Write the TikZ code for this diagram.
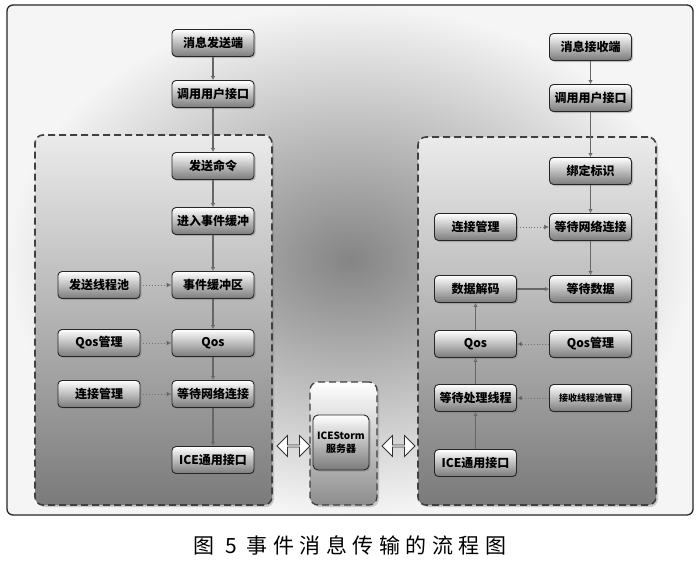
\documentclass[tikz,border=0pt]{standalone}
\usepackage{fontspec}
\newfontfamily\cjk{Noto Sans CJK SC}
\newfontfamily\capfont{Noto Sans CJK SC}[LetterSpace=26]
\usetikzlibrary{shadows,shapes.arrows,arrows.meta}
\begin{document}
\begin{tikzpicture}[x=1pt,y=-1pt,
  box/.style={draw=black!85, line width=0.9pt, rounded corners=4pt,
    top color=white, bottom color=black!52,
    minimum width=82pt, minimum height=27pt, inner sep=1pt,
    font=\cjk\bfseries\fontsize{12}{14}\selectfont,
    drop shadow={shadow xshift=1.5pt, shadow yshift=-1.5pt, opacity=0.45}},
  group/.style={draw=black!75, line width=1.6pt, dash pattern=on 7pt off 4pt,
    rounded corners=8pt, top color=black!8, bottom color=black!52,
    drop shadow={shadow xshift=2pt, shadow yshift=-2pt, opacity=0.35}},
  flow/.style={draw=black!60, line width=1.4pt,
    -{Latex[length=4pt,width=4.5pt,open,fill=white]}},
  aux/.style={draw=black!55, dotted, line width=0.9pt,
    -{Latex[length=5pt,width=5pt,fill=black!80]}},
  dbl/.style={double arrow, draw=black!80, fill=white, line width=0.8pt,
    minimum width=21pt, minimum height=33pt, double arrow head extend=4pt,
    inner sep=0pt}
]
\useasboundingbox (0,0) rectangle (700,563);
\fill[white] (0,0) rectangle (700,563);
% outer frame
\draw[line width=1.3pt, draw=black!85, rounded corners=6pt,
  inner color=black!48, outer color=black!4] (7,5) rectangle (693,515);

% groups
\node[group, minimum width=237pt, minimum height=370pt] (gl) at (153.5,320) {};
\node[group, minimum width=238pt, minimum height=368pt] (gr) at (537,321) {};
\node[group, minimum width=67pt, minimum height=123pt, line width=1.3pt,
  top color=white, bottom color=black!45] (gm) at (343.5,443.5) {};
\node[box, minimum width=56pt, minimum height=55pt, align=center,
  font=\cjk\bfseries\fontsize{10}{13}\selectfont, rounded corners=5pt] (ice) at (341,442.5) {ICEStorm\\服务器};

% left column
\node[box] (ls1) at (213,43) {消息发送端};
\node[box] (ls2) at (213,94) {调用用户接口};
\node[box] (ls3) at (213,166) {发送命令};
\node[box] (ls4) at (213,221) {进入事件缓冲};
\node[box] (ls5) at (213,285) {事件缓冲区};
\node[box] (ls6) at (213,343) {Qos};
\node[box] (ls7) at (213,394) {等待网络连接};
\node[box] (ls8) at (213,460) {ICE通用接口};
\node[box] (lp1) at (99,285) {发送线程池};
\node[box] (lp2) at (99,343) {Qos管理};
\node[box] (lp3) at (99,394) {连接管理};

% right column
\node[box] (rs1) at (590.5,47) {消息接收端};
\node[box] (rs2) at (590.5,98) {调用用户接口};
\node[box] (rs3) at (590.5,171) {绑定标识};
\node[box] (rs4) at (590.5,227) {等待网络连接};
\node[box] (rs5) at (590.5,289) {等待数据};
\node[box] (rq) at (590.5,344) {Qos管理};
\node[box, font=\cjk\bfseries\fontsize{9}{11}\selectfont] (rt) at (590.5,398) {接收线程池管理};
\node[box] (rc) at (475.5,227) {连接管理};
\node[box] (rd) at (475.5,289) {数据解码};
\node[box] (rqs) at (475.5,344) {Qos};
\node[box] (rw) at (475.5,398) {等待处理线程};
\node[box] (ri) at (475.5,463) {ICE通用接口};

% double arrows
\node[dbl] (da1) at (293.5,446) {};
\node[dbl] (da2) at (398.5,446) {};

% left connectors
\draw[flow] (ls1) -- (ls2);
\draw[flow] (ls2) -- (ls3);
\draw[flow] (ls3) -- (ls4);
\draw[flow] (ls4) -- (ls5);
\draw[flow] (ls5) -- (ls6);
\draw[flow] (ls6) -- (ls7);
\draw[flow] (ls7) -- (ls8);
\draw[aux] (lp1) -- (ls5);
\draw[aux] (lp2) -- (ls6);
\draw[aux] (lp3) -- (ls7);

% right connectors
\draw[flow] (rs1) -- (rs2);
\draw[flow] (rs2) -- (rs3);
\draw[flow] (rs3) -- (rs4);
\draw[flow] (rs4) -- (rs5);
\draw[aux] (rc) -- (rs4);
\draw[flow, line width=2pt] (rd) -- (rs5);
\draw[flow] (ri) -- (rw);
\draw[flow] (rw) -- (rqs);
\draw[flow] (rqs) -- (rd);
\draw[aux] (rq) -- (rqs);
\draw[aux] (rt) -- (rw);

% caption
\node[font=\capfont\fontsize{21}{24}\selectfont] (cap) at (350,545) {图 5 事件消息传输的流程图};
\end{tikzpicture}
\end{document}
